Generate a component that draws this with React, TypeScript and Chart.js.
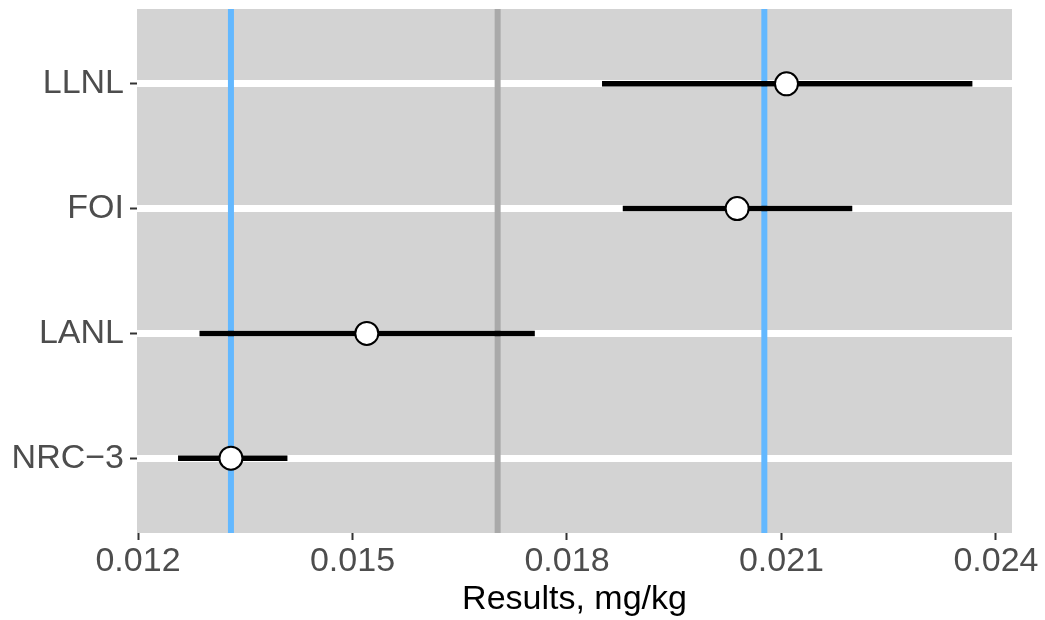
import React, { useEffect, useRef } from 'react';
import { Chart, registerables } from 'chart.js';

Chart.register(...registerables);

const labs = ['LLNL', 'FOI', 'LANL', 'NRC−3'];
const rowPos = [4, 3, 2, 1];
const means = [0.02107, 0.02038, 0.0152, 0.0133];
const lower = [0.01849, 0.01878, 0.01286, 0.01256];
const upper = [0.02367, 0.02199, 0.01755, 0.01409];
const blueRefs = [0.0133, 0.02076];
const grayRef = 0.01703;
const xTicks = [0.012, 0.015, 0.018, 0.021, 0.024];
const xMin = 0.011986;
const xMax = 0.024224;
const yMin = 0.4;
const yMax = 4.6;

const FONT = "'Liberation Sans', Arial, Helvetica, sans-serif";

const bgPlugin = {
  id: 'panelBg',
  beforeDraw(chart: any) {
    const { ctx, chartArea } = chart;
    if (!chartArea) return;
    ctx.save();
    ctx.fillStyle = '#D3D3D3';
    ctx.fillRect(chartArea.left, chartArea.top, chartArea.right - chartArea.left, chartArea.bottom - chartArea.top);
    ctx.restore();
  },
};

export default function App() {
  const ref = useRef<HTMLCanvasElement | null>(null);

  useEffect(() => {
    if (!ref.current) return;
    const vline = (v: number, color: string, order: number) => ({
      type: 'scatter' as const,
      data: [{ x: v, y: yMin }, { x: v, y: yMax }],
      showLine: true,
      borderColor: color,
      borderWidth: 6,
      pointRadius: 0,
      order,
    });
    const datasets: any[] = [];
    blueRefs.forEach((v) => datasets.push(vline(v, '#63B8FF', 3)));
    datasets.push(vline(grayRef, '#A9A9A9', 3));
    labs.forEach((_, i) => {
      datasets.push({
        type: 'scatter',
        data: [{ x: lower[i], y: rowPos[i] }, { x: upper[i], y: rowPos[i] }],
        showLine: true,
        borderColor: '#000000',
        borderWidth: 5.5,
        borderCapStyle: 'butt',
        pointRadius: 0,
        order: 1,
      });
    });
    datasets.push({
      type: 'scatter',
      data: means.map((m, i) => ({ x: m, y: rowPos[i] })),
      pointRadius: 11.5,
      pointBackgroundColor: '#FFFFFF',
      pointBorderColor: '#000000',
      pointBorderWidth: 2,
      order: 0,
    });

    const chart = new Chart(ref.current, {
      type: 'scatter',
      data: { datasets },
      plugins: [bgPlugin],
      options: {
        animation: false,
        responsive: false,
        maintainAspectRatio: false,
        layout: { autoPadding: false, padding: { top: 9, right: 33, left: 0, bottom: 0 } },
        plugins: { legend: { display: false }, tooltip: { enabled: false } },
        scales: {
          x: {
            type: 'linear',
            min: xMin,
            max: xMax,
            afterBuildTicks: (s: any) => {
              s.ticks = xTicks.map((v) => ({ value: v }));
            },
            afterFit: (s: any) => {
              s.height = 87;
              s.paddingLeft = 0;
              s.paddingRight = 0;
            },
            ticks: {
              callback: (v: any) => Number(v).toFixed(3),
              color: '#4D4D4D',
              font: { family: FONT, size: 34 },
              padding: 1,
              maxRotation: 0,
              autoSkip: false,
            },
            grid: {
              drawOnChartArea: false,
              tickLength: 7,
              tickColor: '#333333',
              tickWidth: 2,
            },
            border: { display: false },
            title: {
              display: true,
              text: 'Results, mg/kg',
              color: '#000000',
              font: { family: FONT, size: 34 },
              padding: { top: 0, bottom: 0 },
            },
          },
          y: {
            type: 'linear',
            min: yMin,
            max: yMax,
            afterBuildTicks: (s: any) => {
              s.ticks = rowPos.map((v) => ({ value: v }));
            },
            afterFit: (s: any) => {
              s.width = 137;
              s.paddingTop = 0;
              s.paddingBottom = 0;
            },
            ticks: {
              callback: (v: any) => labs[rowPos.indexOf(Number(v))] ?? '',
              color: '#4D4D4D',
              font: { family: FONT, size: 34 },
              padding: 6,
              autoSkip: false,
            },
            grid: {
              color: '#FFFFFF',
              lineWidth: 7,
              tickLength: 7,
              tickColor: '#333333',
              tickWidth: 2,
            },
            border: { display: false },
          },
        },
      },
    });
    return () => chart.destroy();
  }, []);

  return (
    <div style={{ position: 'absolute', left: 0, top: 0, width: 1045, height: 620, background: '#FFFFFF' }}>
      <canvas ref={ref} width={1045} height={620} style={{ width: 1045, height: 620, display: 'block' }} />
    </div>
  );
}
